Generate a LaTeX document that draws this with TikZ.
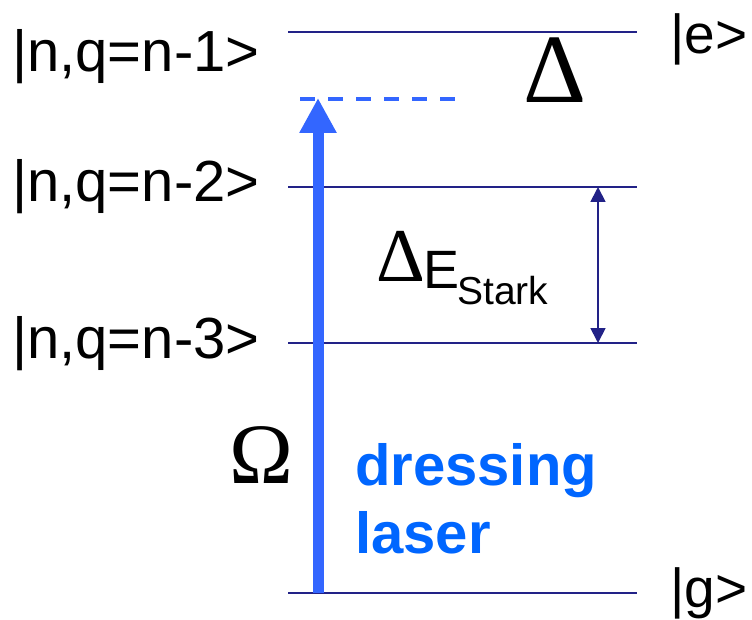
\documentclass[tikz,border=0pt]{standalone}
\usepackage{fontspec}
\setmainfont{Liberation Sans}
\newfontfamily\serifgr{Liberation Serif}
\usetikzlibrary{arrows.meta}
\definecolor{navy}{RGB}{34,34,135}
\definecolor{laserblue}{RGB}{51,102,255}
\definecolor{textblue}{RGB}{0,102,255}
\tikzset{
  level/.style={draw=navy, line width=1.8pt},
  statelbl/.style={inner sep=0pt, font=\fontsize{58}{60}\selectfont},
  sidelbl/.style={inner sep=0pt, font=\fontsize{55}{60}\selectfont},
  laserarrow/.style={draw=laserblue, line width=11pt, -{Triangle[width=35pt,length=35pt]}},
  virtual/.style={draw=laserblue, line width=4pt, dash pattern=on 15pt off 13pt},
  starkarrow/.style={draw=navy, line width=1.8pt, {Triangle[width=15pt,length=15pt]}-{Triangle[width=15pt,length=15pt]}},
}
\begin{document}
\begin{tikzpicture}[x=1pt,y=-1pt]
\useasboundingbox[fill=white] (0,0) rectangle (752,620);
% level end points
\coordinate (eL) at (288,32);  \coordinate (eR) at (637,32);
\coordinate (aL) at (288,187); \coordinate (aR) at (637,187);
\coordinate (bL) at (288,343); \coordinate (bR) at (637,343);
\coordinate (gL) at (288,593); \coordinate (gR) at (637,593);
\draw[level] (eL) -- (eR);
\draw[level] (aL) -- (aR);
\draw[level] (bL) -- (bR);
\draw[level] (gL) -- (gR);
% virtual level and laser
\coordinate (vL) at (300,99); \coordinate (vR) at (455,99);
\draw[virtual] (vL) -- (vR);
\coordinate (lasStart) at (318,593); \coordinate (lasTip) at (318,98);
\draw[laserarrow] (lasStart) -- (lasTip);
% Stark splitting arrow
\coordinate (sTop) at (598,187); \coordinate (sBot) at (598,343);
\draw[starkarrow] (sTop) -- (sBot);
% state labels
\node[statelbl, anchor=base west] (n1) at (12,72) {|n,q=n-1>};
\node[statelbl, anchor=base west] (n2) at (12,202) {|n,q=n-2>};
\node[statelbl, anchor=base west] (n3) at (12,358) {|n,q=n-3>};
\node[sidelbl, anchor=base west] (e) at (670,54) {|e>};
\node[sidelbl, anchor=base west] (g) at (670,607) {|g>};
% detuning
\node[inner sep=0pt, anchor=base, font=\serifgr\fontsize{98}{100}\selectfont] (delta) at (555,103) {Δ};
% Stark label
\node[inner sep=0pt, anchor=base, font=\serifgr\fontsize{76}{80}\selectfont] (dS) at (401,281) {Δ};
\node[inner sep=0pt, anchor=base west, font=\fontsize{54}{56}\selectfont] (E) at (423,289) {E};
\node[inner sep=0pt, anchor=base west, font=\fontsize{39}{42}\selectfont] (stark) at (457,305) {Stark};
% Rabi frequency
\node[inner sep=0pt, anchor=base, font=\serifgr\fontsize{86}{90}\selectfont] (omega) at (261,483) {Ω};
% laser label
\node[inner sep=0pt, anchor=base west, text=textblue, font=\bfseries\fontsize{58}{60}\selectfont] (dress) at (355,485) {dressing};
\node[inner sep=0pt, anchor=base west, text=textblue, font=\bfseries\fontsize{58}{60}\selectfont] (laser) at (355,553) {laser};
\end{tikzpicture}
\end{document}
